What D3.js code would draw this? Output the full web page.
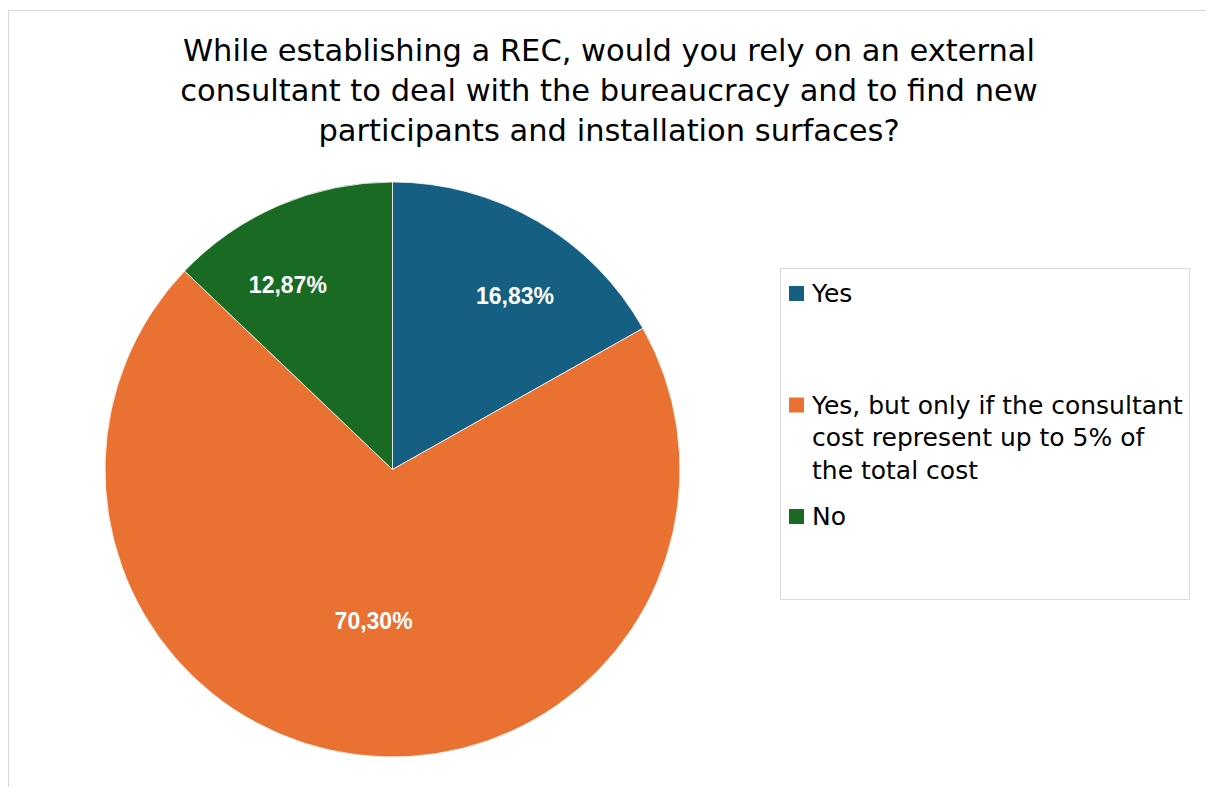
<!DOCTYPE html>
<html>
<head>
<meta charset="utf-8">
<script src="https://cdn.jsdelivr.net/npm/d3@7"></script>
<style>
	body { margin: 0; background: #fff; }
	svg { display: block; }
</style>
</head>
<body>
<div id="chart"></div>
<script>
// chart data
const titleLines = [
	'While establishing a REC, would you rely on an external',
	'consultant to deal with the bureaucracy and to find new',
	'participants and installation surfaces?',
];
const categories = ['Yes', 'Yes, but only if the consultant cost represent up to 5% of the total cost', 'No'];
const legendLines = [
	['Yes'],
	['Yes, but only if the consultant', 'cost represent up to 5% of', 'the total cost'],
	['No'],
];
const values = [16.83, 70.3, 12.87];
const colors = ['#156082', '#E97132', '#196B24'];

const width = 1206,
	height = 787;
const textFont = "'DejaVu Sans', sans-serif";

const svg = d3
	.select('#chart')
	.append('svg')
	.attr('width', width)
	.attr('height', height);

// chart area border
svg
	.append('rect')
	.attr('x', 8.5)
	.attr('y', 10.5)
	.attr('width', 1210)
	.attr('height', 800)
	.attr('fill', '#fff')
	.attr('stroke', '#d9d9d9')
	.attr('stroke-width', 1);

// title
svg
	.append('text')
	.attr('text-anchor', 'middle')
	.style('font-family', textFont)
	.style('font-size', '30.5px')
	.style('fill', '#000')
	.selectAll('tspan')
	.data(titleLines)
	.join('tspan')
	.attr('x', 609)
	.attr('y', (d, i) => 61 + i * 40)
	.text((d) => d);

// pie
const cx = 392.5,
	cy = 469.5,
	radius = 287.5;
const color = d3.scaleOrdinal().domain(categories).range(colors);
const data = categories.map((c, i) => ({ key: c, value: values[i] }));
const pie = d3.pie().sort(null).value((d) => d.value);
const arc = d3.arc().innerRadius(0).outerRadius(radius);
const arcs = pie(data);

const g = svg.append('g').attr('transform', `translate(${cx},${cy})`);
g.selectAll('path')
	.data(arcs)
	.join('path')
	.attr('d', arc)
	.attr('fill', (d) => color(d.data.key))
	.attr('stroke', '#fff')
	.attr('stroke-width', 0.75);

// data labels, pushed a bit like Excel's best fit
const labelPos = (d) => {
	let mid = (d.startAngle + d.endAngle) / 2;
	const share = d.value / d3.sum(values);
	let r = share > 0.5 ? radius * 0.53 : radius * 0.74;
	if (share < 0.5) mid += mid < Math.PI ? 0.085 : -0.11;
	return d3.pointRadial(mid, r);
};
g.selectAll('text')
	.data(arcs)
	.join('text')
	.attr('x', (d) => labelPos(d)[0])
	.attr('y', (d) => labelPos(d)[1])
	.attr('dy', '0.36em')
	.attr('text-anchor', 'middle')
	.style('font-family', "'Liberation Sans', Arial, sans-serif")
	.style('font-weight', 'bold')
	.style('font-size', '23px')
	.style('fill', '#fff')
	.text((d) => d3.format('.2f')(d.value).replace('.', ',') + '%');

// legend
const legend = svg.append('g');
legend
	.append('rect')
	.attr('x', 780.5)
	.attr('y', 268.5)
	.attr('width', 409)
	.attr('height', 331)
	.attr('fill', '#fff')
	.attr('stroke', '#d9d9d9');

const ly = d3.scalePoint().domain(categories).range([302, 525]);
const items = legend
	.selectAll('g.item')
	.data(categories)
	.join('g')
	.attr('class', 'item')
	.attr('transform', (d) => `translate(0,${ly(d)})`);
items
	.append('rect')
	.attr('x', 789)
	.attr('y', -16)
	.attr('width', 15)
	.attr('height', 15)
	.attr('fill', (d) => color(d));
items
	.append('text')
	.style('font-family', textFont)
	.style('font-size', '25px')
	.style('fill', '#000')
	.selectAll('tspan')
	.data((d, i) => legendLines[i])
	.join('tspan')
	.attr('x', 812)
	.attr('y', (d, i) => i * 32.5)
	.text((d) => d);
</script>
</body>
</html>
